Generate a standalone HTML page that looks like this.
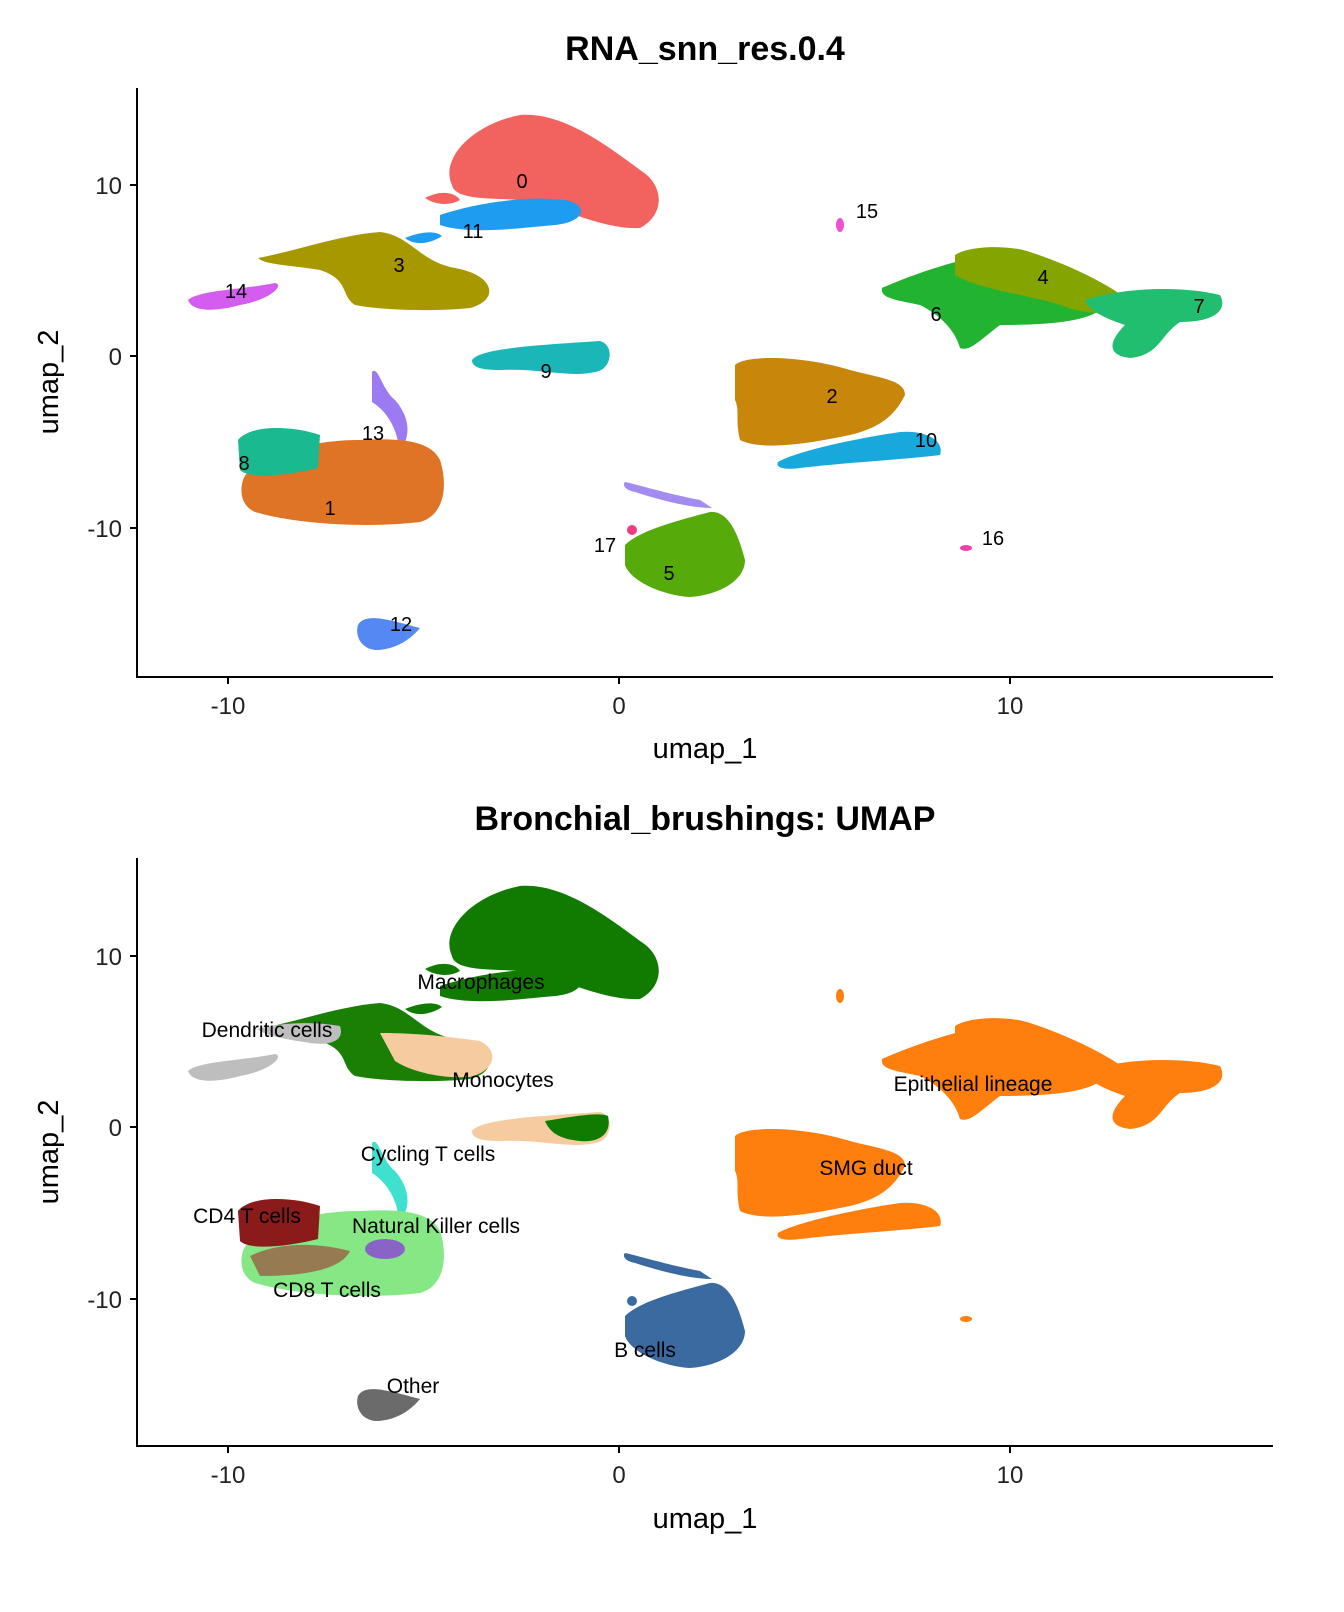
<!DOCTYPE html>
<html><head><meta charset="utf-8"><style>
html,body{margin:0;padding:0;background:#fff;}
svg{display:block;font-family:"Liberation Sans",Arial,sans-serif;}
</style></head><body>
<svg width="1344" height="1612" viewBox="0 0 1344 1612" xmlns="http://www.w3.org/2000/svg">
<defs>
<path id="c0" d="M452,185 C440,160 470,125 520,115 C560,112 600,140 640,170 C665,185 665,215 640,228 C600,230 560,205 520,200 C490,198 455,200 452,185 Z M425,198 C440,190 455,192 460,200 C450,206 435,205 425,198 Z"/>
<path id="c11" d="M440,215 C470,205 520,195 565,200 C590,205 585,222 555,225 C520,228 470,235 440,225 Z M405,238 C420,232 435,230 442,236 C430,244 415,246 405,238 Z"/>
<path id="c3" d="M258,258 C300,250 340,235 380,232 C410,235 420,262 455,268 C495,275 500,300 470,308 C430,312 380,310 355,305 C340,295 350,280 320,270 C290,265 265,265 258,258 Z"/>
<path id="c14" d="M188,300 C200,290 240,290 275,283 C285,285 270,300 240,305 C215,312 192,312 188,300 Z"/>
<path id="c9" d="M472,360 C480,348 540,345 600,341 C615,345 612,370 595,372 C570,378 540,368 500,370 C480,370 472,367 472,360 Z"/>
<path id="c13" d="M372,372 C378,365 382,390 395,400 C408,415 410,430 405,442 L398,442 C395,425 385,410 372,402 Z"/>
<path id="c1" d="M243,480 C250,460 300,440 360,440 C400,438 430,440 440,460 C448,485 445,515 420,522 C370,528 300,525 255,512 C240,505 240,490 243,480 Z"/>
<path id="c8" d="M238,440 C250,425 290,425 320,435 L318,468 C290,475 250,480 240,470 Z"/>
<path id="c12" d="M358,625 C365,612 390,620 420,628 C410,640 395,650 375,650 C360,648 355,635 358,625 Z"/>
<path id="c2" d="M735,365 C745,355 800,355 850,370 C880,378 905,380 905,395 C895,415 880,430 840,437 C800,445 760,450 740,440 C735,420 740,410 735,400 Z"/>
<path id="c10" d="M778,462 C800,450 860,438 900,432 C925,430 945,440 940,455 C900,460 850,462 800,468 C785,470 775,468 778,462 Z"/>
<path id="c6" d="M882,288 C900,280 950,260 990,255 C1040,262 1090,285 1110,300 C1100,320 1060,325 1000,325 C980,340 970,352 960,348 C955,330 940,315 920,305 C895,300 880,298 882,288 Z"/>
<path id="c4" d="M955,255 C970,245 1010,245 1030,252 C1070,265 1110,285 1128,300 C1110,320 1080,312 1060,305 C1030,295 980,290 955,275 Z"/>
<path id="c7" d="M1085,300 C1120,288 1180,285 1220,295 C1228,310 1215,322 1180,322 C1160,335 1160,355 1130,358 C1105,355 1110,340 1125,325 C1105,318 1090,312 1085,300 Z"/>
<ellipse id="c15" cx="840" cy="225" rx="4" ry="7"/>
<ellipse id="c16" cx="966" cy="548" rx="6" ry="3"/>
<path id="c5" d="M625,545 C640,530 680,520 710,512 C730,510 740,540 745,560 C745,580 720,595 690,597 C660,595 630,580 625,565 Z"/>
<path id="cs" d="M625,482 C640,485 660,492 700,500 L712,508 C690,508 660,500 635,492 C625,490 622,485 625,482 Z"/>
<ellipse id="c17" cx="632" cy="530" rx="5" ry="5"/>
</defs>

<!-- TOP PANEL -->
<text x="705" y="60" font-size="34" font-weight="bold" text-anchor="middle">RNA_snn_res.0.4</text>
<g>
<use href="#c0" fill="#F2635F"/>
<use href="#c11" fill="#1E9CF0"/>
<use href="#c3" fill="#A89800"/>
<use href="#c14" fill="#D45DF0"/>
<use href="#c9" fill="#1AB6B8"/>
<use href="#c13" fill="#9C7BF2"/>
<use href="#c1" fill="#E07426"/>
<use href="#c8" fill="#1BB98F"/>
<use href="#c12" fill="#5588F2"/>
<use href="#c2" fill="#C8860A"/>
<use href="#c10" fill="#18A9DC"/>
<use href="#c6" fill="#22B430"/>
<use href="#c4" fill="#84A400"/>
<use href="#c7" fill="#20BE6E"/>
<use href="#c15" fill="#EE4FD3"/>
<use href="#c16" fill="#F040A8"/>
<use href="#c5" fill="#56AA0A"/>
<use href="#cs" fill="#A48BF0"/>
<use href="#c17" fill="#F03A80"/>
</g>
<g font-size="20" text-anchor="middle" fill="#000">
<text x="522" y="188">0</text><text x="473" y="238">11</text><text x="399" y="272">3</text>
<text x="236" y="298">14</text><text x="546" y="378">9</text><text x="373" y="440">13</text>
<text x="244" y="470">8</text><text x="330" y="515">1</text><text x="401" y="631">12</text>
<text x="832" y="403">2</text><text x="926" y="447">10</text><text x="1043" y="284">4</text>
<text x="936" y="321">6</text><text x="1199" y="313">7</text><text x="867" y="218">15</text>
<text x="993" y="545">16</text><text x="605" y="552">17</text><text x="669" y="580">5</text>
</g>
<g stroke="#000" stroke-width="2" fill="none">
<path d="M137,88 V677 H1273"/>
<path d="M228,677 v7 M619,677 v7 M1010,677 v7 M130,185 h7 M130,356 h7 M130,528 h7"/>
</g>
<g font-size="24" fill="#222">
<text x="228" y="714" text-anchor="middle">-10</text>
<text x="619" y="714" text-anchor="middle">0</text>
<text x="1010" y="714" text-anchor="middle">10</text>
<text x="122" y="194" text-anchor="end">10</text>
<text x="122" y="365" text-anchor="end">0</text>
<text x="122" y="537" text-anchor="end">-10</text>
</g>
<text x="705" y="758" font-size="29" text-anchor="middle">umap_1</text>
<text transform="translate(58,382) rotate(-90)" font-size="29" text-anchor="middle">umap_2</text>

<!-- BOTTOM PANEL -->
<text x="705" y="830" font-size="34" font-weight="bold" text-anchor="middle">Bronchial_brushings: UMAP</text>
<g transform="translate(0,771)">
<use href="#c0" fill="#117A00"/>
<use href="#c11" fill="#117A00"/>
<use href="#c3" fill="#1A7F05"/>
<path d="M380,262 C420,262 450,266 480,270 C500,280 495,300 470,306 C440,308 410,300 395,290 Z" fill="#F6CBA0"/>
<use href="#c14" fill="#BEBEBE"/>
<path d="M258,258 C280,252 310,250 340,255 C345,270 330,275 310,272 C285,268 265,265 258,258 Z" fill="#BEBEBE"/>
<use href="#c9" fill="#F6CBA0"/>
<path d="M545,350 C575,345 600,341 608,345 C612,362 600,372 580,370 C560,368 550,362 545,350 Z" fill="#117A00"/>
<use href="#c13" fill="#40E0D0"/>
<use href="#c1" fill="#86E884"/>
<path d="M250,485 C280,470 320,472 350,480 C340,500 300,505 260,505 Z" fill="#A03030" opacity="0.6"/>
<ellipse cx="385" cy="478" rx="20" ry="10" fill="#8A2BE2" opacity="0.7"/>
<use href="#c8" fill="#8B1A1A"/>
<use href="#c12" fill="#6B6B6B"/>
<use href="#c2" fill="#FF7F0E"/>
<use href="#c10" fill="#FF7F0E"/>
<use href="#c6" fill="#FF7F0E"/>
<use href="#c4" fill="#FF7F0E"/>
<use href="#c7" fill="#FF7F0E"/>
<use href="#c15" fill="#FF7F0E"/>
<use href="#c16" fill="#FF7F0E"/>
<use href="#c5" fill="#3A6AA0"/>
<use href="#cs" fill="#3A6AA0"/>
<use href="#c17" fill="#3A6AA0"/>
</g>
<g font-size="21" text-anchor="middle" fill="#000">
<text x="481" y="989">Macrophages</text>
<text x="267" y="1037">Dendritic cells</text>
<text x="503" y="1087">Monocytes</text>
<text x="973" y="1091">Epithelial lineage</text>
<text x="428" y="1161">Cycling T cells</text>
<text x="866" y="1175">SMG duct</text>
<text x="247" y="1223">CD4 T cells</text>
<text x="436" y="1233">Natural Killer cells</text>
<text x="327" y="1297">CD8 T cells</text>
<text x="645" y="1357">B cells</text>
<text x="413" y="1393">Other</text>
</g>
<g stroke="#000" stroke-width="2" fill="none">
<path d="M137,858 V1446 H1273"/>
<path d="M228,1446 v7 M619,1446 v7 M1010,1446 v7 M130,956 h7 M130,1127 h7 M130,1299 h7"/>
</g>
<g font-size="24" fill="#222">
<text x="228" y="1483" text-anchor="middle">-10</text>
<text x="619" y="1483" text-anchor="middle">0</text>
<text x="1010" y="1483" text-anchor="middle">10</text>
<text x="122" y="965" text-anchor="end">10</text>
<text x="122" y="1136" text-anchor="end">0</text>
<text x="122" y="1308" text-anchor="end">-10</text>
</g>
<text x="705" y="1528" font-size="29" text-anchor="middle">umap_1</text>
<text transform="translate(58,1152) rotate(-90)" font-size="29" text-anchor="middle">umap_2</text>
</svg>
</body></html>
